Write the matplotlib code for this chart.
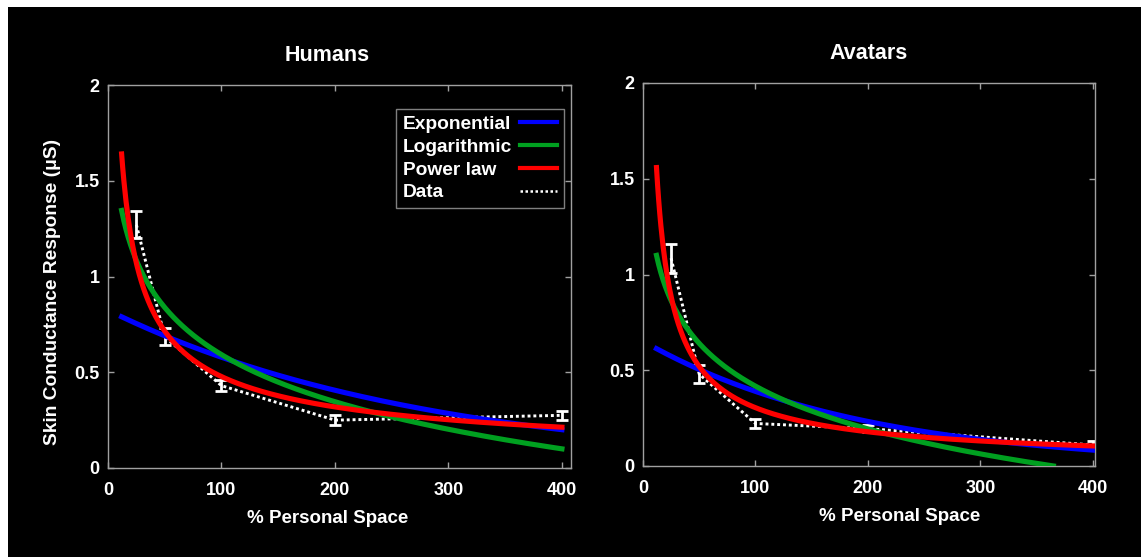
import numpy as np
import matplotlib
matplotlib.use("Agg")
import matplotlib.pyplot as plt
from matplotlib.patches import Rectangle
from matplotlib.lines import Line2D

plt.rcParams['font.family'] = ['Liberation Sans', 'DejaVu Sans']
plt.rcParams['font.weight'] = 'bold'

# measured data (% personal space vs mean SCR, with standard error)
space = [25, 50, 100, 200, 400]
humans_mean = [1.27, 0.685, 0.43, 0.25, 0.275]
humans_err = [0.07, 0.045, 0.03, 0.025, 0.025]
avatars_mean = [1.085, 0.48, 0.222, 0.195, 0.11]
avatars_err = [0.075, 0.048, 0.026, 0.02, 0.018]

# fitted model parameters
# exponential: a*exp(-b*x), logarithmic: a - b*ln(x), power law: a*x^-b
humans_exp = (0.824, 0.00354)
humans_log = (2.227, 0.355)
humans_pow = (6.965, 0.582)
avatars_exp = (0.652, 0.00515)
avatars_log = (1.90, 0.322)
avatars_pow = (10.56, 0.77)
fit_start, fit_end = 12, 400

BLUE = '#0000ff'
GREEN = '#00a020'
RED = '#ff0000'
GRAY = '#a0a0a0'

fig = plt.figure(figsize=(11.46, 5.57), dpi=100)
fig.patch.set_facecolor('white')
fig.patches.append(Rectangle((8 / 1146, 0), 1133 / 1146, 550 / 557,
                             transform=fig.transFigure, facecolor='black',
                             edgecolor='none', zorder=-10))

ax1 = fig.add_axes([108 / 1146, 89 / 557, 463 / 1146, 383 / 557])
ax2 = fig.add_axes([643 / 1146, 91 / 557, 452 / 1146, 383 / 557])


def draw_panel(ax, title, mean, err, p_exp, p_log, p_pow, xmax, title_x, label_x):
    ax.set_facecolor('black')
    ax.errorbar(space, mean, yerr=err, color='white', lw=2.1,
                linestyle=(0, (1, 1)), capsize=4.5, capthick=2,
                elinewidth=2, zorder=2)
    x = np.linspace(fit_start, fit_end, 400)
    ax.plot(x, p_exp[0] * np.exp(-p_exp[1] * x), color=BLUE, lw=3.7, zorder=3)
    y_log = p_log[0] - p_log[1] * np.log(x)
    ax.plot(x[y_log >= 0], y_log[y_log >= 0], color=GREEN, lw=3.7, zorder=4)
    ax.plot(x, p_pow[0] * x ** -p_pow[1], color=RED, lw=3.7, zorder=5)

    ax.set_xlim(0, xmax)
    ax.set_ylim(0, 2)
    ax.set_xticks([0, 100, 200, 300, 400])
    ax.set_yticks([0, 0.5, 1, 1.5, 2])
    ax.set_yticklabels(['0', '0.5', '1', '1.5', '2'])
    for s in ax.spines.values():
        s.set_color(GRAY)
        s.set_linewidth(1)
    ax.tick_params(direction='in', length=4, width=1, color=GRAY,
                   top=True, right=True, labelcolor='white', labelsize=13)
    ax.tick_params(axis='x', pad=10)
    ax.tick_params(axis='y', pad=6)
    ax.set_title(title, color='white', fontsize=15.5, fontweight='bold',
                 pad=17, x=title_x)
    ax.set_xlabel('% Personal Space', color='white', fontsize=13.5,
                  fontweight='bold', labelpad=8, x=label_x)


draw_panel(ax1, 'Humans', humans_mean, humans_err,
           humans_exp, humans_log, humans_pow, 408, 0.474, 0.475)
draw_panel(ax2, 'Avatars', avatars_mean, avatars_err,
           avatars_exp, avatars_log, avatars_pow, 402, 0.5, 0.567)

ax1.set_ylabel('Skin Conductance Response (\u03bcS)', color='white',
               fontsize=13.8, fontweight='bold', labelpad=10, y=0.46)

handles = [Line2D([], [], color=BLUE, lw=3),
           Line2D([], [], color=GREEN, lw=3),
           Line2D([], [], color=RED, lw=3),
           Line2D([], [], color='white', lw=1.8, linestyle=(0, (1, 1)))]
labels = ['Exponential', 'Logarithmic', 'Power law', 'Data']
leg_fs = 13.8
hlen, hpad = 1.95, 0.4
leg = ax1.legend(handles, labels, loc='upper right',
                 bbox_to_anchor=(456 / 463, (468 - 109) / 383),
                 markerfirst=False, frameon=True, fancybox=False,
                 facecolor='black', edgecolor=GRAY, fontsize=leg_fs,
                 handlelength=hlen, handletextpad=hpad, labelspacing=0.28,
                 borderpad=0.35, borderaxespad=0)
leg.get_frame().set_linewidth(1)
for t in leg.get_texts():
    t.set_color('white')
    t.set_fontweight('bold')

# left-align the legend labels, keep the line samples in a right column
fig.canvas.draw()
renderer = fig.canvas.get_renderer()
text_w = max(t.get_window_extent(renderer).width for t in leg.get_texts())
fs_px = leg_fs * fig.dpi / 72
row_w = text_w + (hlen + hpad) * fs_px
for col in leg._legend_handle_box.get_children():
    for item in col.get_children():
        item.mode = 'expand'
        item.width = row_w

fig.savefig('out.png', dpi=100, facecolor=fig.get_facecolor())
